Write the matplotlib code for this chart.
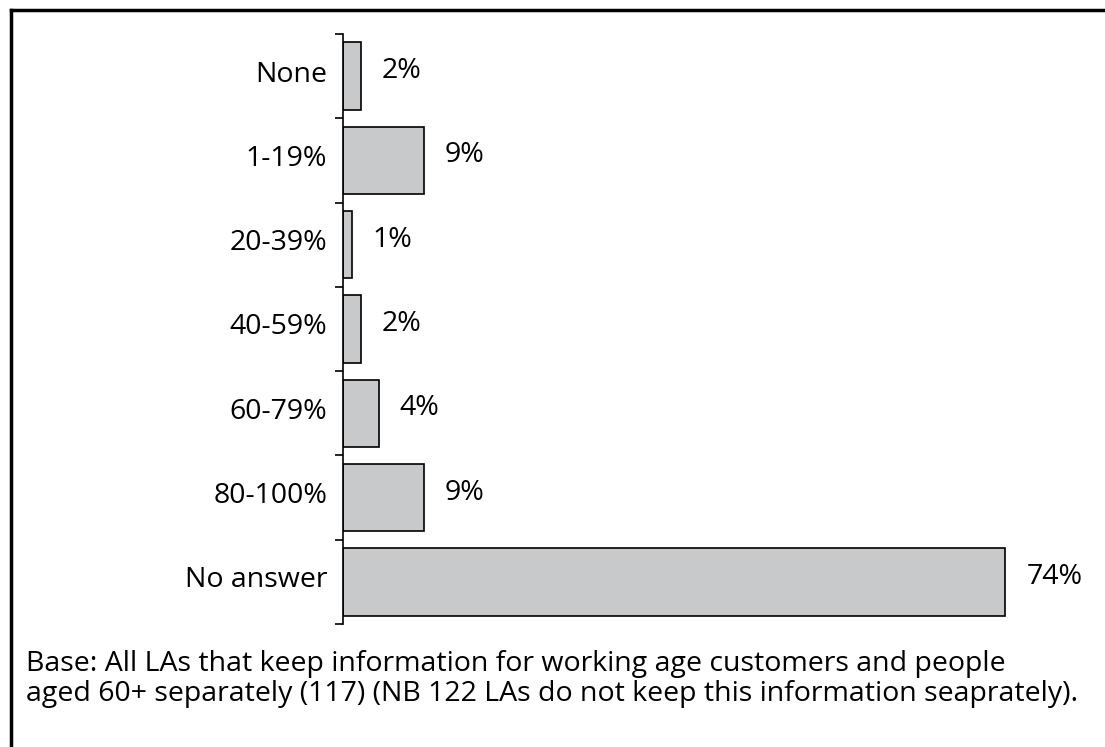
import matplotlib
matplotlib.use("Agg")
import matplotlib.pyplot as plt
from matplotlib.lines import Line2D
from matplotlib.ticker import FixedLocator
import matplotlib.transforms as mtransforms

categories = ["None", "1-19%", "20-39%", "40-59%", "60-79%", "80-100%", "No answer"]
values = [2, 9, 1, 2, 4, 9, 74]
value_labels = ["2%", "9%", "1%", "2%", "4%", "9%", "74%"]
footnote = ("Base: All LAs that keep information for working age customers and people\n"
            "aged 60+ separately (117) (NB 122 LAs do not keep this information seaprately).")

plt.rcParams['font.family'] = ['Open Sans', 'DejaVu Sans']

fig = plt.figure(figsize=(11.05, 7.47), dpi=100)
W, H = 1105, 747
ax = fig.add_axes([343 / W, 123 / H, 716 / W, 590 / H])

n = len(categories)
ypos = list(range(n))
ax.barh(ypos, values, height=0.8, color="#c8c9cb", edgecolor="black", linewidth=1.2)
ax.set_ylim(n - 0.5, -0.5)
ax.set_xlim(0, 80)

FS = 20.5
for y, v, lab in zip(ypos, values, value_labels):
    ax.annotate(lab, (v, y), xytext=(21, 5), textcoords="offset pixels",
                ha="left", va="center", fontsize=FS)

ax.yaxis.set_major_locator(FixedLocator([i - 0.5 for i in range(n + 1)]))
ax.set_yticklabels([], minor=False)
ax.set_yticks(ypos, minor=True)
ax.set_yticklabels(categories, minor=True, fontsize=FS)
ax.tick_params(axis="y", which="major", length=6, width=1.2, direction="out")
ax.tick_params(axis="y", which="minor", length=0, pad=11.5)
ax.set_xticks([])
for s in ["top", "right", "bottom"]:
    ax.spines[s].set_visible(False)
ax.spines["left"].set_linewidth(1.2)

# shift category labels slightly upward
offset = mtransforms.ScaledTranslation(0, 5 / 100, fig.dpi_scale_trans)
for t in ax.yaxis.get_minorticklabels():
    t.set_transform(t.get_transform() + offset)

fig.text(26 / W, 1 - 679 / H, footnote, fontsize=FS, ha="left", va="center", linespacing=1.05)

# partial border (top and left)
fig.add_artist(Line2D([11 / W, 1.0], [1 - 10 / H, 1 - 10 / H], transform=fig.transFigure, color="black", lw=2.5))
fig.add_artist(Line2D([11 / W, 11 / W], [0, 1 - 10 / H], transform=fig.transFigure, color="black", lw=2.5))

fig.savefig("out.png", dpi=100)
